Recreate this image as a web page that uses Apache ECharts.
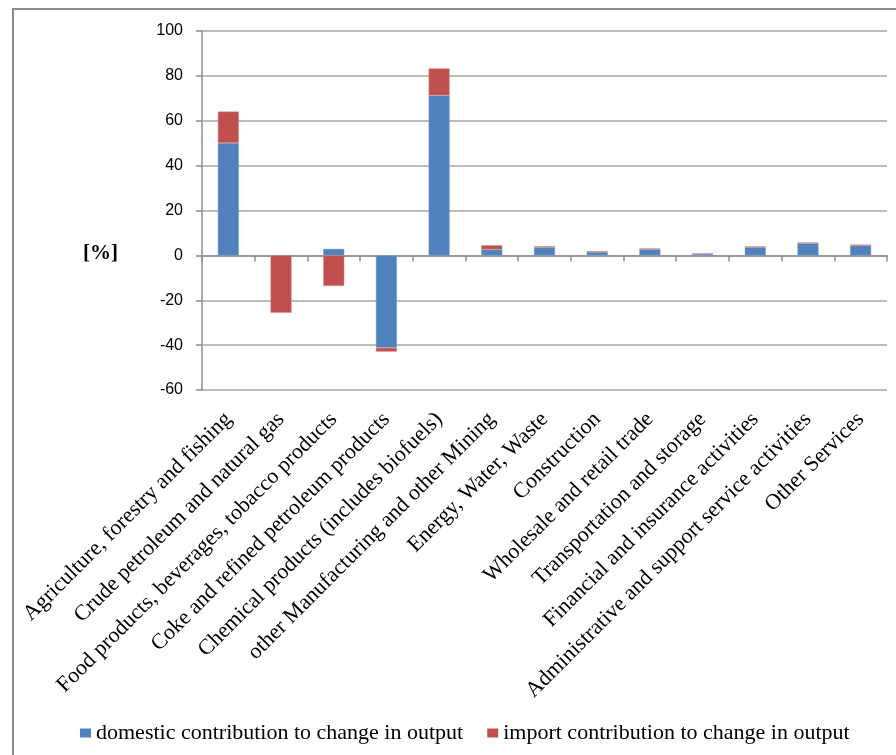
<!DOCTYPE html>
<html>
<head>
<meta charset="utf-8">
<style>
  html, body { margin: 0; padding: 0; background: #fff; }
  #chart { width: 896px; height: 755px; }
</style>
<script src="https://cdn.jsdelivr.net/npm/echarts@6/dist/echarts.min.js"></script>
</head>
<body>
<div id="chart"></div>
<script>
// Sectors, in display order
const categories = [
  'Agriculture, forestry and fishing',
  'Crude petroleum and natural gas',
  'Food products, beverages, tobacco products',
  'Coke and refined petroleum products',
  'Chemical products (includes biofuels)',
  'other Manufacturing and other Mining',
  'Energy, Water, Waste',
  'Construction',
  'Wholesale and retail trade',
  'Transportation and storage',
  'Financial and insurance activities',
  'Administrative and support service activities',
  'Other Services'
];

// Contributions to change in output, in percent
const domestic = [50.1, 0, 2.9, -41.2, 71.3, 2.6, 3.6, 1.5, 2.7, 0.6, 3.6, 5.4, 4.4];
const imports  = [14.0, -25.6, -13.6, -1.7, 12.0, 1.9, 0.5, 0.4, 0.4, 0.3, 0.4, 0.3, 0.4];

const seriesNames = [
  'domestic contribution to change in output',
  'import contribution to change in output'
];

// Value axis ticks
const yMin = -60, yMax = 100, yStep = 20;

const serif = '"Liberation Serif", "Times New Roman", serif';
const sans = '"Liberation Sans", Arial, sans-serif';

const chart = echarts.init(document.getElementById('chart'));
chart.setOption({
  animation: false,
  backgroundColor: '#fff',
  grid: { left: 202, right: 9, top: 31, bottom: 365, containLabel: false },
  legend: {
    left: 75,
    top: 717,
    itemWidth: 11,
    itemHeight: 9,
    itemGap: 24,
    icon: 'rect',
    itemStyle: { borderWidth: 0 },
    textStyle: { fontFamily: serif, fontSize: 22, color: '#000' },
    data: seriesNames
  },
  xAxis: [
    {
      type: 'category',
      data: categories,
      position: 'bottom',
      axisLine: { show: false, onZero: false },
      axisTick: { show: false },
      axisLabel: {
        interval: 0,
        rotate: 45,
        margin: 26,
        fontFamily: serif,
        fontSize: 22,
        color: '#000'
      }
    },
    {
      type: 'category',
      data: categories,
      position: 'bottom',
      axisLine: { show: true, onZero: true, lineStyle: { color: '#8c8c8c', width: 1.5 } },
      axisTick: { show: true, interval: 0, length: 6, lineStyle: { color: '#8c8c8c', width: 1.5 } },
      axisLabel: { show: false }
    }
  ],
  yAxis: {
    type: 'value',
    min: yMin,
    max: yMax,
    interval: yStep,
    axisLine: { show: true, lineStyle: { color: '#8c8c8c', width: 1.5 } },
    axisTick: { show: true, length: 6, lineStyle: { color: '#8c8c8c', width: 1.5 } },
    splitLine: { show: true, lineStyle: { color: '#a6a6a6', width: 1.5 } },
    axisLabel: { margin: 19, fontFamily: sans, fontSize: 16, color: '#000' }
  },
  graphic: [
    {
      type: 'rect',
      shape: { x: 13, y: 9, width: 900, height: 800 },
      style: { fill: 'none', stroke: '#8a8a8a', lineWidth: 2 },
      silent: true
    },
    {
      type: 'text',
      left: 83,
      top: 243,
      style: { text: '[%]', fontFamily: serif, fontSize: 21, fontWeight: 'bold', fill: '#000' }
    }
  ],
  series: [
    {
      name: seriesNames[0],
      type: 'bar',
      stack: 'total',
      xAxisIndex: 0,
      barWidth: 21,
      itemStyle: { color: '#4F81BD', borderColor: '#7aa0d0', borderWidth: 0.5 },
      data: domestic
    },
    {
      name: seriesNames[1],
      type: 'bar',
      stack: 'total',
      xAxisIndex: 0,
      barWidth: 21,
      itemStyle: { color: '#C0504D', borderColor: '#d98a88', borderWidth: 0.5 },
      data: imports
    }
  ]
});
</script>
</body>
</html>
